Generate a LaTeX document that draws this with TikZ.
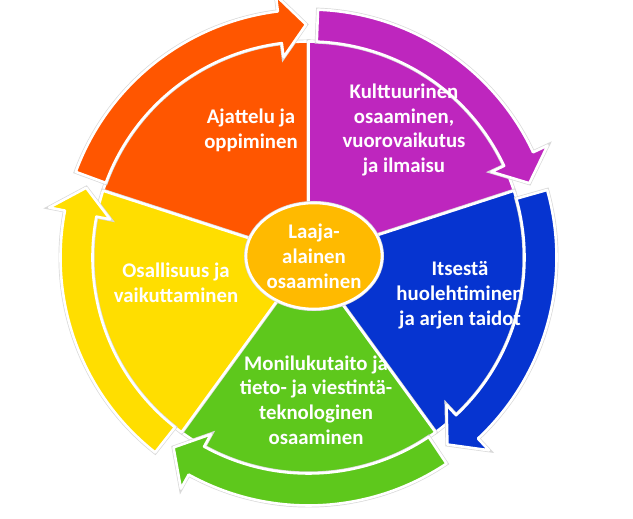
\documentclass[tikz,border=0pt]{standalone}
\usepackage{fontspec}
\setmainfont{Carlito}
\usetikzlibrary{calc,shapes.geometric}

\definecolor{segorange}{RGB}{255,86,0}
\definecolor{segpurple}{RGB}{190,38,190}
\definecolor{segblue}{RGB}{6,52,208}
\definecolor{seggreen}{RGB}{94,200,28}
\definecolor{segyellow}{RGB}{255,222,0}
\definecolor{hubgold}{RGB}{255,186,0}

\begin{document}
\begin{tikzpicture}[
  x=1pt, y=1pt,
  seg/.style ={draw=white, line width=2.6pt, line join=round,
               preaction={draw=black!15, line width=4pt}},
  hub/.style ={seg, ellipse, fill=hubgold, minimum width=136pt,
               minimum height=106pt, inner sep=0pt},
  lbl/.style ={text=white, align=center, inner sep=0pt,
               font=\fontsize{20.8}{24.8}\selectfont\bfseries},
]
\useasboundingbox (0,0) rectangle (633,519);
\clip (0,0) rectangle (633,519);

\def\ri{216pt} \def\ro{248pt} \def\rm{233pt}
\def\hi{202pt} \def\ho{264pt}
\coordinate (centre) at (308.5,261.5);

% five segments, each a wedge with a curved arrow round its rim
\foreach \a/\col in {162/segorange, 90/segpurple, 18/segblue,
                     -54/seggreen, -126/segyellow} {
  \pgfmathsetmacro\segend{\a-72}
  \pgfmathsetmacro\tailang{\a-2.2}
  \pgfmathsetmacro\tipang{\segend+0.6}
  \pgfmathsetmacro\baseang{\tipang+6.5}
  \draw[seg, fill=\col] (centre) -- ($(centre)+(\a:\ri)$)
    arc[start angle=\a, end angle=\segend, radius=\ri] -- cycle;
  \draw[seg, fill=\col] ($(centre)+(\tailang:\ro)$)
    arc[start angle=\tailang, end angle=\baseang, radius=\ro]
    -- ($(centre)+(\baseang:\ho)$) -- ($(centre)+(\tipang:\rm)$)
    -- ($(centre)+(\baseang:\hi)$) -- ($(centre)+(\baseang:\ri)$)
    arc[start angle=\baseang, end angle=\tailang, radius=\ri] -- cycle;
}

\node[hub, lbl] (core) at (314,263) {Laaja-\\alainen\\osaaminen};

\node[lbl] (think)    at (251,389) {Ajattelu ja\\oppiminen};
\node[lbl] (culture)  at (404,389) {Kulttuurinen\\osaaminen,\\vuorovaikutus\\ja ilmaisu};
\node[lbl] (selfcare) at (460,224) {Itsestä\\huolehtiminen\\ja arjen taidot};
\node[lbl] (literacy) at (316,119) {Monilukutaito ja\\tieto- ja viestintä-\\teknologinen\\osaaminen};
\node[lbl] (partake)  at (176,236) {Osallisuus ja\\vaikuttaminen};

\end{tikzpicture}
\end{document}
